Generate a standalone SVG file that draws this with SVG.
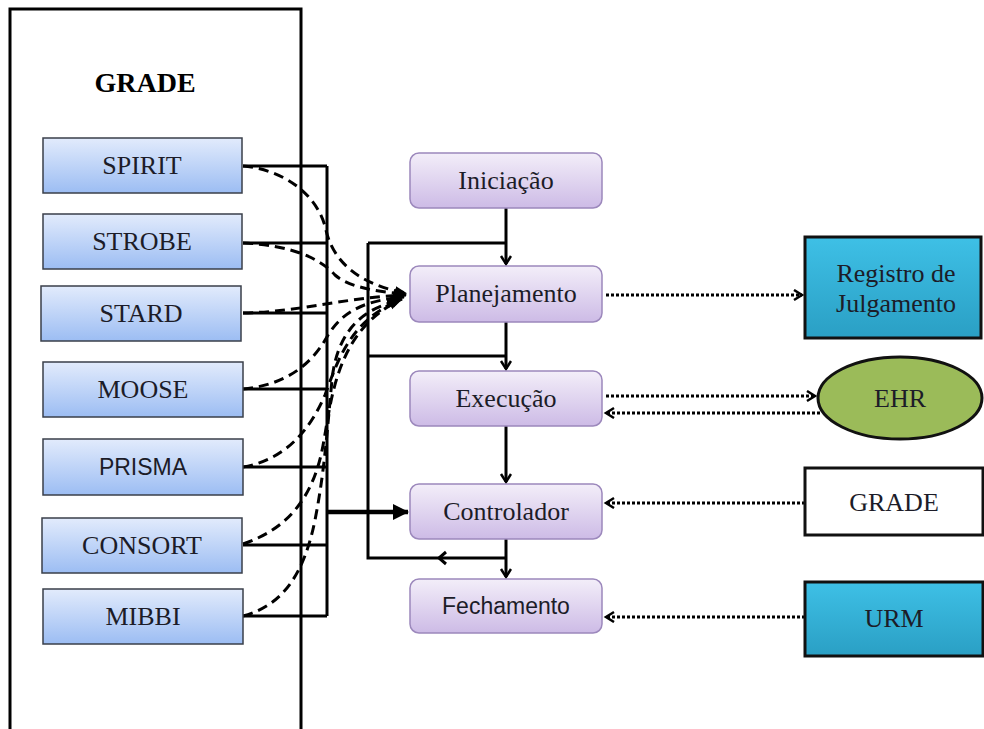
<svg xmlns="http://www.w3.org/2000/svg" width="984" height="729" viewBox="0 0 984 729">
<defs>
<linearGradient id="gBlue" x1="0" y1="0" x2="0" y2="1"><stop offset="0" stop-color="#E2EBFC"/><stop offset="1" stop-color="#9CBDF3"/></linearGradient>
<linearGradient id="gPurple" x1="0" y1="0" x2="0" y2="1"><stop offset="0" stop-color="#F3EEF9"/><stop offset="1" stop-color="#CDBBE6"/></linearGradient>
<linearGradient id="gTeal" x1="0" y1="0" x2="0" y2="1"><stop offset="0" stop-color="#3EC0E6"/><stop offset="1" stop-color="#2A9FC4"/></linearGradient>
<marker id="chev" markerUnits="userSpaceOnUse" markerWidth="14" markerHeight="14" refX="9" refY="6" orient="auto"><path d="M1,1 L9,6 L1,11" fill="none" stroke="#000" stroke-width="2.5"/></marker>
<marker id="tri" markerUnits="userSpaceOnUse" markerWidth="18" markerHeight="18" refX="15" refY="8" orient="auto"><path d="M0,0 L16,8 L0,16 Z" fill="#000"/></marker>
<marker id="triS" markerUnits="userSpaceOnUse" markerWidth="14" markerHeight="14" refX="11" refY="5" orient="auto"><path d="M0,0 L12,5 L0,10 Z" fill="#000"/></marker>
</defs>
<style>
.blue{fill:url(#gBlue);stroke:#3a3f4a;stroke-width:1.5}
.purple{fill:url(#gPurple);stroke:#9C88BC;stroke-width:1.5}
.teal{fill:url(#gTeal);stroke:#111;stroke-width:3}
.serif{font-family:"Liberation Serif","Times New Roman",serif;font-size:26px;fill:#1c1c28;text-anchor:middle}
.sans{font-family:"Liberation Sans",Arial,sans-serif;font-size:23px;fill:#1c1c28;text-anchor:middle}
.solid{fill:none;stroke:#000;stroke-width:3}
.dash{fill:none;stroke:#000;stroke-width:3;stroke-dasharray:10 6}
.dot{fill:none;stroke:#000;stroke-width:3;stroke-dasharray:3 2}
</style>
<rect width="984" height="729" fill="#fff"/>

<g id="grade-container">
<path d="M10,740 L10,9 L301,9 L301,740" fill="none" stroke="#000" stroke-width="3"/>
<text x="145" y="92" font-family="Liberation Serif,serif" font-size="28" font-weight="bold" text-anchor="middle" fill="#000">GRADE</text>
</g>

<g id="connectors">
<path class="solid" d="M243,166 H327 M243,243 H327 M243,313 H327 M243,389 H327 M243,467 H327 M243,545 H327 M243,616 H327 M327,166 V616" stroke-width="2.6"/>
<path d="M327,512 H408" fill="none" stroke="#000" stroke-width="4.5" marker-end="url(#tri)"/>
<path class="dash" d="M243,166 C285,170 318,195 326,230 C333,262 360,285 406,293" marker-end="url(#triS)"/>
<path class="dash" d="M243,243 C290,245 320,258 335,275 C350,288 380,292 406,294" marker-end="url(#triS)"/>
<path class="dash" d="M243,313 C300,312 340,298 406,295" marker-end="url(#triS)"/>
<path class="dash" d="M243,389 C285,385 312,365 328,335 C345,308 370,300 404,297" marker-end="url(#triS)"/>
<path class="dash" d="M243,467 C285,460 310,430 325,395 C338,360 350,320 402,299" marker-end="url(#triS)"/>
<path class="dash" d="M243,544 C290,528 315,495 324,440 C332,395 338,330 400,300" marker-end="url(#triS)"/>
<path class="dash" d="M243,616 C285,605 305,570 315,520 C325,470 328,420 332,380 C336,340 355,310 398,301" marker-end="url(#triS)"/>
<path class="solid" d="M368,243 H506 M368,356 H506 M368,243 V558 H506"/>
<path d="M446,552 L439,558 L446,564" fill="none" stroke="#000" stroke-width="3"/>
<path class="solid" d="M506,208 V264" marker-end="url(#chev)"/>
<path class="solid" d="M506,322 V369" marker-end="url(#chev)"/>
<path class="solid" d="M506,426 V482" marker-end="url(#chev)"/>
<path class="solid" d="M506,539 V577" marker-end="url(#chev)"/>
<path class="dot" d="M606,295 H802" marker-end="url(#chev)"/>
<path class="dot" d="M606,396 H815" marker-end="url(#chev)"/>
<path class="dot" d="M820,413 H606" marker-end="url(#chev)"/>
<path class="dot" d="M805,503 H606" marker-end="url(#chev)"/>
<path class="dot" d="M805,617 H606" marker-end="url(#chev)"/>
</g>

<g id="spirit"><rect class="blue" x="43" y="138" width="199" height="55"/><text class="serif" x="142" y="174">SPIRIT</text></g>
<g id="strobe"><rect class="blue" x="43" y="214" width="199" height="55"/><text class="serif" x="142" y="250">STROBE</text></g>
<g id="stard"><rect class="blue" x="41" y="286" width="200" height="55"/><text class="serif" x="141" y="322">STARD</text></g>
<g id="moose"><rect class="blue" x="43" y="362" width="200" height="55"/><text class="serif" x="143" y="398">MOOSE</text></g>
<g id="prisma"><rect class="blue" x="43" y="439" width="200" height="56"/><text class="sans" x="143" y="475">PRISMA</text></g>
<g id="consort"><rect class="blue" x="42" y="518" width="200" height="55"/><text class="serif" x="142" y="554">CONSORT</text></g>
<g id="mibbi"><rect class="blue" x="43" y="589" width="200" height="55"/><text class="serif" x="143" y="625">MIBBI</text></g>

<g id="iniciacao"><rect class="purple" x="410" y="153" width="192" height="55" rx="9"/><text class="serif" x="506" y="189">Iniciação</text></g>
<g id="planejamento"><rect class="purple" x="410" y="266" width="192" height="56" rx="9"/><text class="serif" x="506" y="302">Planejamento</text></g>
<g id="execucao"><rect class="purple" x="410" y="371" width="192" height="55" rx="9"/><text class="serif" x="506" y="407">Execução</text></g>
<g id="controlador"><rect class="purple" x="410" y="484" width="192" height="55" rx="9"/><text class="serif" x="506" y="520">Controlador</text></g>
<g id="fechamento"><rect class="purple" x="410" y="579" width="192" height="54" rx="9"/><text class="sans" x="506" y="614">Fechamento</text></g>

<g id="registro"><rect class="teal" x="805" y="237" width="176" height="101"/><text class="serif" x="896" y="282">Registro de</text><text class="serif" x="896" y="312">Julgamento</text></g>
<g id="ehr"><ellipse cx="900" cy="398" rx="82" ry="41" fill="#9BBB59" stroke="#111" stroke-width="3"/><text class="serif" x="900" y="407">EHR</text></g>
<g id="grade-ext"><rect x="805" y="468" width="178" height="67" fill="#fff" stroke="#111" stroke-width="3"/><text class="serif" x="894" y="511">GRADE</text></g>
<g id="urm"><rect class="teal" x="805" y="582" width="178" height="74"/><text class="serif" x="894" y="627">URM</text></g>
</svg>
